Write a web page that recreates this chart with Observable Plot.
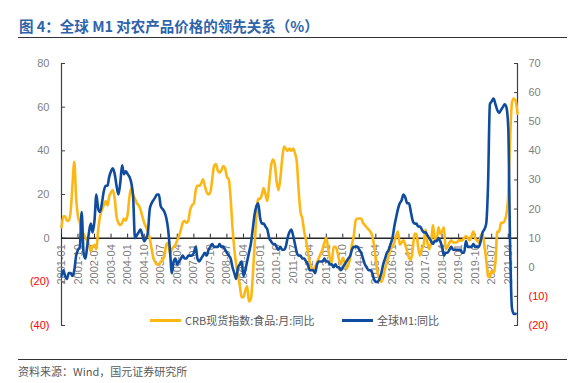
<!DOCTYPE html>
<html><head><meta charset="utf-8">
<script src="https://cdn.jsdelivr.net/npm/d3@7"></script>
<script src="https://cdn.jsdelivr.net/npm/@observablehq/plot@0.6"></script>
<style>
body{margin:0;background:#fff;}
#wrap{position:relative;width:579px;height:383px;overflow:hidden;background:#fff;}
#chart{position:absolute;left:0;top:0;}
.hr{position:absolute;left:18px;width:549px;height:0;border-top:1.5px solid #333;}
#title{position:absolute;left:19px;top:17px;font:bold 14.5px/17px "Noto Sans CJK SC","Liberation Sans",sans-serif;color:#2E64AA;white-space:nowrap;}
#src{position:absolute;left:18px;top:365px;font:11px/13px "Noto Sans CJK SC",sans-serif;color:#595959;white-space:nowrap;}
.lg{position:absolute;top:313px;font:11px/14px "Noto Sans CJK SC",sans-serif;color:#595959;white-space:nowrap;display:flex;align-items:center;}
.lg i{display:inline-block;width:31px;height:3px;margin-right:4px;}
</style></head><body>
<div id="wrap">
  <div id="chart"></div>
  <div id="title"></div>
  <div class="hr" style="top:37px"></div>
  <div class="lg" id="lg0" style="left:150px"><i></i><span></span></div>
  <div class="lg" id="lg1" style="left:342px"><i></i><span></span></div>
  <div class="hr" style="top:359px"></div>
  <div id="src"></div>
</div>
<script>
const titleText = "图 4：全球 M1 对农产品价格的领先关系（%）";
const sourceText = "资料来源：Wind，国元证券研究所";
const seriesNames = ["CRB现货指数:食品:月:同比", "全球M1:同比"];
const seriesColors = ["#FDB714", "#0F4C9E"];
const startMonth = "2001-01";
const xTickLabels = ["2001-01","2001-10","2002-07","2003-04","2004-01","2004-10","2005-07","2006-04","2007-01","2007-10","2008-07","2009-04","2010-01","2010-10","2011-07","2012-04","2013-01","2013-10","2014-07","2015-04","2016-01","2016-10","2017-07","2018-04","2019-01","2019-10","2020-07","2021-04"];
const leftTicks = [80, 60, 40, 20, 0, -20, -40];
const rightTicks = [70, 60, 50, 40, 30, 20, 10, 0, -10, -20];

// CRB现货指数:食品:月:同比 (left axis), monthly from 2001-01
const crb = [
  5, 10, 10, 8, 8, 12, 24, 35, 18, 10, 7, 3,
  2, 0, -1, -3, -6, -4, -3, -5, 4, 10, 13, 15,
  17, 15, 19, 21, 22, 18, 10, 7, 6, 7, 9, 8,
  11, 19, 23, 20, 18, 16, 15, 13, 10, 7, 5, 3,
  0, -5, -9, -11, -12, -12, -11, -10, -8, -3, -2, -7,
  -5, -4, -3, -1, 1, 4, 7, 8, 7, 8, 13, 15,
  16, 22, 24, 24, 25, 27, 24, 21, 20, 21, 27, 33,
  34, 31, 30, 31, 33, 32, 28, 27, 18, 5, -5, -12,
  -17, -22, -27, -27, -24, -22, -29, -28, -18, -4, 10, 18,
  18, 20, 23, 20, 17, 25, 33, 36, 34, 26, 22, 27,
  36, 42, 41, 40, 41, 40, 41, 39, 35, 22, 12, 9,
  3, -1, -6, -11, -14, -15, -13, -11, -9, -7, -5, -2,
  0, -5, -9, -11, -4, -4, -6, -10, -12, -9, -11, -14,
  -12, -9, -3, 1, 8, 9, 9, 9, 7, 6, 5, 4,
  3, 1, -3, -10, -16, -19, -20, -18, -14, -11, -8, -5,
  -4, -2, 1, 3, -3, -2, -1, -3, -6, -9, -10, -5,
  2, 2, -4, -8, -5, -3, 4, -2, -5, -2, 6, 0,
  -1, 5, 2, 3, 5, -5, -4, -2, -1, -2, -2, -2,
  -1, -1, -1, 0, 1, 0, -1, 1, 3, 0, -1, -2,
  1, 2, -3, -10, -17, -18, -15, -16, -11, 3, 3, 7,
  7, 8, 11, 20, 45, 62, 64, 63, 57
];
// 全球M1:同比 (right axis), monthly from 2001-01
const m1 = [
  -3, -1, -3, -4, -2, -2, -3, -1, 4, 6, 7, 19,
  5, 3, 7, 12, 15, 12, 16, 25, 20, 19, 22, 26,
  28, 28, 31, 33, 34, 32, 28, 25, 29, 35, 32, 33,
  32, 31, 29, 24, 10, 11, 12, 13, 11, 9, 10, 12,
  20, 22, 23, 24, 25, 25, 21, 20, 19, 17, 13, 6,
  -2, 2, 3, 1, 2, 3, 4, 3, 3, 4, 4, 4,
  5, 7, 3, 2, 3, 4, 5, 4, 6, 7, 8, 7,
  7, 7, 8, 7, 7, 6, 5, 4, 3, 0, -2, -4,
  0, 1, 2, -3, -1, 2, 5, 8, 13, 18, 21, 22,
  17, 15, 15, 14, 13, 10, 9, 8, 8, 7, 6, 7,
  6, 6, 7, 10, 12, 13, 11, 8, 5, 4, 4, 3,
  3, 2, 1, -1, -1, -1, -2, 1, 2, 2, 2, 3,
  2, 2, 1, 1, 0, 1, 0, 0, -1, 0, 1, 2,
  3, 4, 6, 7, 7, 7, 6, 5, 3, 1, 0, -1,
  -1, -2, -4, -5, -5, -4, -2, 1, 3, 5, 6, 8,
  10, 14, 17, 20, 22, 23, 25, 24, 22, 22, 19, 16,
  15, 15, 14, 14, 13, 12, 12, 11, 10, 9, 8, 9,
  9, 10, 9, 7, 4, 5, 5, 6, 7, 6, 6, 6,
  6, 6, 5, 5, 9, 7, 7, 7, 8, 7, 7, 7,
  9, 12, 13, 15, 28, 56, 57, 58, 56, 54, 53, 54,
  55, 56, 55, 48, 8, -14, -16, -16
];

const parseMonth = d3.utcParse("%Y-%m");
const t0 = parseMonth(startMonth);
const monthAt = i => d3.utcMonth.offset(t0, i);
const leftDom = [d3.min(leftTicks), d3.max(leftTicks)];
const rightDom = [d3.min(rightTicks), d3.max(rightTicks)];
// map right-axis values onto left scale (linear, endpoints aligned)
const toLeft = r => leftDom[0] + (r - rightDom[0]) * (leftDom[1] - leftDom[0]) / (rightDom[1] - rightDom[0]);
const toRight = l => Math.round(rightDom[0] + (l - leftDom[0]) * (rightDom[1] - rightDom[0]) / (leftDom[1] - leftDom[0]));
const fmtNum = v => v < 0 ? `(${-v})` : `${v}`;

const crbData = crb.map((v, i) => ({date: monthAt(i), v}));
const m1Data = m1.map((v, i) => ({date: monthAt(i), v: toLeft(v)}));
const tickDates = xTickLabels.map(parseMonth);
const xEnd = monthAt(crb.length - 1);

const W = 579, H = 383, mt = 63, mb = 58, ml = 61, mr = 62;
const pxPerUnit = (H - mt - mb) / (leftDom[1] - leftDom[0]);
const tickLen = 4 / pxPerUnit;
const gray = "#7F7F7F", red = "#FF0000", axisCol = "#404040";
const ax = {label: null};

const chart = Plot.plot({
  width: W, height: H,
  marginTop: mt, marginBottom: mb, marginLeft: ml, marginRight: mr,
  style: {fontFamily: "'Liberation Sans', Arial, sans-serif", fontSize: "11px", background: "transparent"},
  x: {type: "utc", domain: [t0, xEnd], axis: null, label: null},
  y: {domain: leftDom, label: null},
  marks: [
    Plot.ruleX([t0, xEnd], {stroke: axisCol, strokeWidth: 1.2}),
    // left axis ticks + labels
    Plot.axisY(leftTicks, {...ax, anchor: "left", tickSize: -4, tickFormat: () => "", stroke: axisCol}),
    Plot.axisY(leftTicks.filter(d => d >= 0), {...ax, anchor: "left", tickSize: 0, tickPadding: 12, tickFormat: fmtNum, color: gray}),
    Plot.axisY(leftTicks.filter(d => d < 0), {...ax, anchor: "left", tickSize: 0, tickPadding: 12, tickFormat: fmtNum, color: red}),
    // right axis ticks + labels
    Plot.axisY(rightTicks.map(toLeft), {...ax, anchor: "right", tickSize: -4, tickFormat: () => "", stroke: axisCol}),
    Plot.axisY(rightTicks.filter(d => d >= 0).map(toLeft), {...ax, anchor: "right", tickSize: 0, tickPadding: 11, tickFormat: d => fmtNum(toRight(d)), color: gray}),
    Plot.axisY(rightTicks.filter(d => d < 0).map(toLeft), {...ax, anchor: "right", tickSize: 0, tickPadding: 11, tickFormat: d => fmtNum(toRight(d)), color: red}),
    // zero line with category ticks
    Plot.ruleY([0], {stroke: "#262626", strokeWidth: 1.5}),
    Plot.ruleX(tickDates, {y1: 0, y2: tickLen, stroke: "#262626", strokeWidth: 1}),
    Plot.text(xTickLabels, {x: d => parseMonth(d), y: () => 0, text: d => d, rotate: -90, textAnchor: "end", dy: 6, fill: gray, fontSize: 11}),
    // series
    Plot.line(crbData, {x: "date", y: "v", stroke: seriesColors[0], strokeWidth: 2.6, curve: "monotone-x"}),
    Plot.line(m1Data, {x: "date", y: "v", stroke: seriesColors[1], strokeWidth: 2.6, curve: "monotone-x"})
  ]
});
document.getElementById("chart").appendChild(chart);
document.getElementById("title").textContent = titleText;
document.getElementById("src").textContent = sourceText;
["lg0", "lg1"].forEach((id, k) => {
  const el = document.getElementById(id);
  el.querySelector("i").style.background = seriesColors[k];
  el.querySelector("span").textContent = seriesNames[k];
});
</script>
</body></html>
